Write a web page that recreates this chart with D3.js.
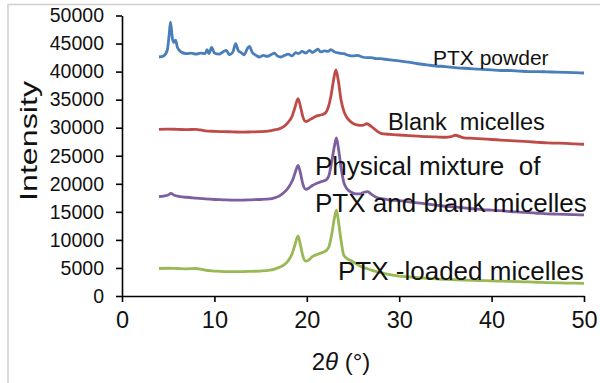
<!DOCTYPE html>
<html><head><meta charset="utf-8">
<script src="https://cdn.jsdelivr.net/npm/d3@7"></script>
<style>body{margin:0;background:#fff}svg{display:block;font-family:"Liberation Sans",Arial,sans-serif}</style>
</head><body><svg id="c" width="600" height="383"></svg>
<script>
const xTicks = [0, 10, 20, 30, 40, 50];
const yTicks = [0, 5000, 10000, 15000, 20000, 25000, 30000, 35000, 40000, 45000, 50000];
const seriesNames = ["PTX powder", "Blank  micelles", "Physical mixture  of|PTX and blank micelles", "PTX -loaded micelles"];
const seriesColors = ["#4a7ebb", "#be4b48", "#7d5fa0", "#98b954"];

const ptxPowder = [[4,42600],[4.5,42800],[4.9,43800],[5.1,46500],[5.25,48800],[5.45,46000],[5.6,45200],[5.8,45600],[6,44300],[6.4,43500],[7,43200],[7.5,43300],[8,43100],[8.5,43300],[9,43200],[9.2,43900],[9.4,43200],[9.7,44300],[10,43300],[10.5,43100],[11,43600],[11.3,43800],[11.6,43000],[12,43500],[12.3,45000],[12.6,43700],[12.9,43400],[13.2,43000],[13.6,44200],[13.8,44500],[14.1,43400],[14.5,42900],[14.9,42600],[15.3,42900],[15.7,42700],[16.1,43000],[16.5,43300],[16.8,42800],[17.2,42600],[17.6,42900],[18,43100],[18.4,42800],[18.8,43400],[19.1,43200],[19.5,43600],[19.9,43300],[20.3,43800],[20.6,43400],[21,43800],[21.2,44000],[21.5,43500],[21.9,43700],[22.3,43600],[22.6,43900],[23,43500],[23.5,43300],[24,43200],[24.5,42900],[25,42800],[25.5,42900],[26,42600],[26.5,42500],[27,42500],[27.5,42300],[28,42300],[28.5,42200],[29,42100],[29.5,42000],[30,41900],[31,41700],[32,41400],[33,41200],[34,41000],[35,40900],[36,40700],[37,40600],[38,40500],[39,40400],[40,40300],[41,40200],[42,40200],[43,40100],[44,40000],[45,40000],[46,39950],[47,39900],[48,39850],[49,39800],[50,39750]];

const blankMicelles = [[4,29700],[5,29750],[6,29700],[7,29650],[8,29700],[8.5,29600],[9,29450],[10,29350],[11,29300],[12,29250],[13,29200],[14,29250],[15,29300],[16,29450],[16.5,29600],[17,29800],[17.5,30200],[18,31000],[18.4,32000],[18.7,33500],[19.05,35200],[19.35,33500],[19.6,31800],[19.9,31100],[20.2,31300],[20.6,31700],[21.1,32100],[21.6,32300],[22,32600],[22.3,33500],[22.6,35500],[22.9,38500],[23.15,40300],[23.4,38500],[23.7,35000],[24,33000],[24.3,31900],[24.8,31000],[25.4,30500],[26,30400],[26.5,30700],[27,30200],[27.6,29400],[28,29000],[29,28800],[30,28700],[31,28600],[32,28500],[33,28400],[34,28350],[35,28300],[35.6,28400],[36.1,28650],[36.6,28400],[37,28200],[38,28100],[39,28000],[40,27900],[41,27800],[42,27700],[43,27600],[44,27500],[45,27400],[46,27300],[47,27250],[48,27200],[49,27100],[50,27050]];

const physicalMixture = [[4,17700],[4.5,17800],[5,18000],[5.3,18300],[5.6,18000],[6,17800],[7,17600],[8,17450],[9,17300],[10,17200],[11,17150],[12,17100],[13,17100],[14,17150],[15,17200],[16,17300],[16.5,17500],[17,17800],[17.5,18400],[18,19300],[18.5,20800],[18.8,22300],[19.05,23300],[19.3,22000],[19.6,19800],[19.9,19000],[20.2,19200],[20.6,19700],[21.1,20100],[21.6,20400],[22.1,20700],[22.4,21500],[22.7,24000],[23,26800],[23.2,28200],[23.45,26000],[23.7,23000],[24,20300],[24.4,19000],[24.8,18500],[25.3,18200],[25.8,18200],[26.2,18500],[26.6,18600],[27,18100],[27.5,17600],[28.3,17300],[29,17100],[30,17000],[31,16800],[32,16600],[33,16400],[34,16200],[35,16000],[36,15900],[37,15700],[38,15550],[39,15400],[40,15300],[41,15200],[42,15050],[43,14950],[44,14850],[45,14750],[46,14650],[47,14600],[48,14550],[49,14500],[50,14450]];

const ptxLoaded = [[4,4900],[5,4950],[6,4900],[7,4850],[8,4900],[8.5,4800],[9,4600],[10,4450],[11,4350],[12,4350],[13,4350],[14,4400],[15,4450],[16,4600],[16.5,4800],[17,5100],[17.5,5500],[18,6300],[18.4,7500],[18.7,9000],[19.05,10700],[19.3,9200],[19.6,7000],[19.9,6200],[20.2,6400],[20.6,7000],[21.1,7400],[21.6,7700],[22.1,8100],[22.4,8800],[22.7,11000],[23,14000],[23.2,15300],[23.45,13000],[23.7,10000],[24,7300],[24.4,6600],[24.8,6300],[25.3,5800],[25.8,5300],[26.5,4900],[27,4600],[28.3,4050],[29,3800],[30,3550],[31,3400],[32,3250],[33,3150],[34,3050],[35,2950],[36,2900],[37,2850],[38,2800],[39,2750],[40,2700],[41,2650],[42,2600],[43,2550],[44,2500],[45,2450],[46,2400],[47,2350],[48,2300],[49,2280],[50,2250]];

const allSeries = [ptxPowder, blankMicelles, physicalMixture, ptxLoaded];

const svg = d3.select("#c");
svg.append("rect").attr("x",8).attr("y",4.5).attr("width",700).attr("height",500)
  .attr("fill","none").attr("stroke","#cfcfcf").attr("stroke-width",1.5);

const x = d3.scaleLinear().domain([0,50]).range([122,584]);
const y = d3.scaleLinear().domain([0,50000]).range([296,15.5]);

const gy = svg.append("g").attr("transform","translate(122,0)")
  .call(d3.axisLeft(y).tickValues(yTicks).tickFormat(d3.format("d")).tickSize(6).tickSizeOuter(0).tickPadding(12));
gy.selectAll("text").attr("font-size",19.5).attr("fill","#111").attr("font-family","Liberation Sans, Arial, sans-serif");
const gx = svg.append("g").attr("transform","translate(0,296)")
  .call(d3.axisBottom(x).tickValues(xTicks).tickFormat(d3.format("d")).tickSize(6).tickSizeOuter(0).tickPadding(9));
gx.selectAll("text").attr("font-size",23.5).attr("fill","#111").attr("font-family","Liberation Sans, Arial, sans-serif");
svg.selectAll(".domain, .tick line").attr("stroke","#000").attr("stroke-width",1.6);

const line = d3.line().x(d=>x(d[0])).y(d=>y(d[1])).curve(d3.curveMonotoneX);
allSeries.forEach((s,i)=>{
  svg.append("path").datum(s).attr("d",line).attr("fill","none")
    .attr("stroke",seriesColors[i]).attr("stroke-width",2.8).attr("stroke-linejoin","round");
});

const labels = [
  {t:seriesNames[0], x:433, y:65, fs:21},
  {t:seriesNames[1], x:388, y:130, fs:23.5},
  {t:seriesNames[2].split("|")[0], x:315, y:175, fs:26},
  {t:seriesNames[2].split("|")[1], x:315, y:212, fs:26},
  {t:seriesNames[3], x:338, y:280, fs:26}
];
labels.forEach(l=>{
  svg.append("text").attr("x",l.x).attr("y",l.y).attr("font-size",l.fs)
    .attr("fill","#111").style("white-space","pre").attr("xml:space","preserve").text(l.t);
});

svg.append("text").attr("transform","translate(37,141) rotate(-90)")
  .attr("text-anchor","middle").attr("font-size",24).attr("fill","#111")
  .attr("textLength",120).attr("lengthAdjust","spacingAndGlyphs").text("Intensity");

const xt = svg.append("text").attr("x",341).attr("y",370).attr("text-anchor","middle")
  .attr("font-size",24).attr("fill","#111");
xt.append("tspan").text("2");
xt.append("tspan").attr("font-style","italic").text("θ");
xt.append("tspan").text(" (°)");
</script></body></html>
